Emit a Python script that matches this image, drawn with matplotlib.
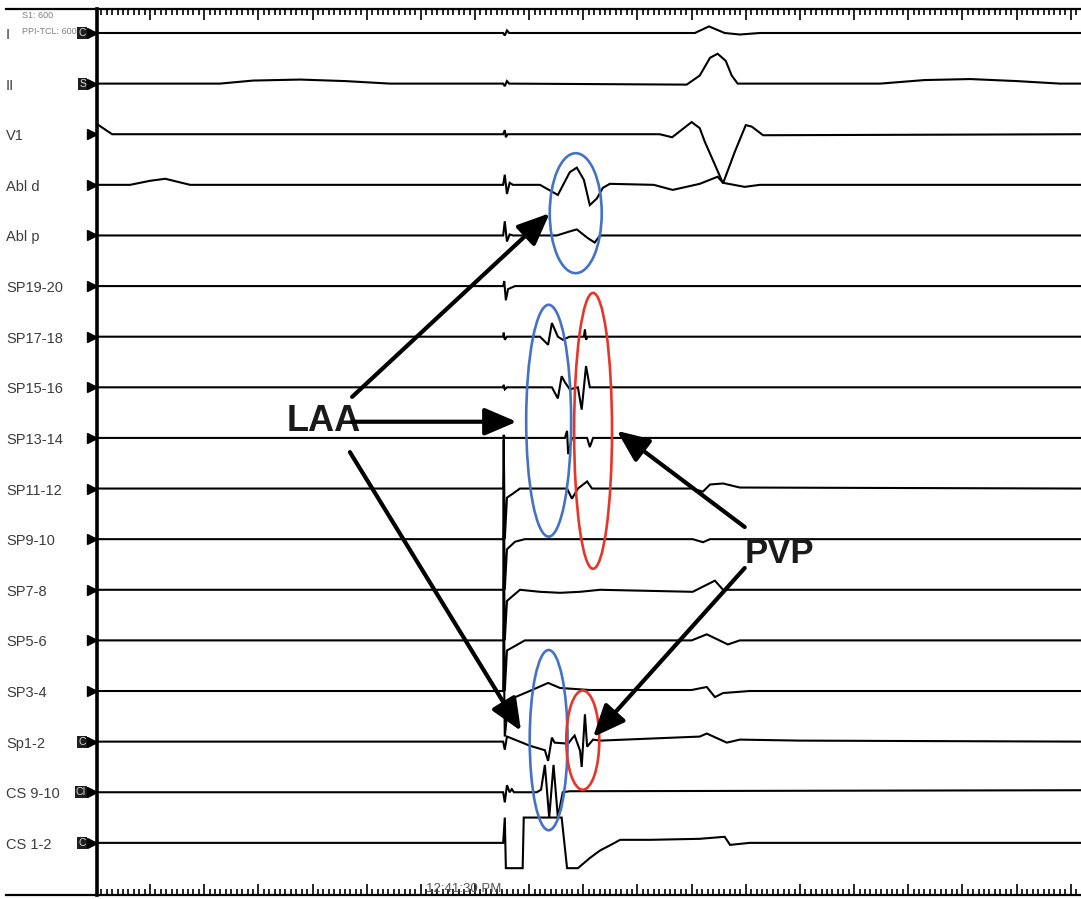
import numpy as np
import matplotlib.pyplot as plt
from matplotlib.patches import Ellipse
from matplotlib.lines import Line2D
from matplotlib.transforms import blended_transform_factory
from matplotlib.ticker import MultipleLocator

plt.rcParams['font.family'] = ['Liberation Sans', 'DejaVu Sans']

channels = ['I', 'II', 'V1', 'Abl d', 'Abl p', 'SP19-20', 'SP17-18', 'SP15-16',
            'SP13-14', 'SP11-12', 'SP9-10', 'SP7-8', 'SP5-6', 'SP3-4', 'Sp1-2',
            'CS 9-10', 'CS 1-2']
tags = ['C', 'S', '', '', '', '', '', '', '', '', '', '', '', '', 'C', 'CI', 'C']

# keypoints: time (ms), deflection in channel spacings (+ = up)
t_I = [2, 752, 755, 759, 763, 1106, 1132, 1161, 1189, 1226, 1819]
v_I = [0, 0, -0.05, 0.05, 0, 0, 0.13, 0, -0.03, 0, 0]

t_II = [2, 229, 290, 377, 460, 543, 752, 755, 759, 763, 1091, 1115, 1134, 1148, 1163, 1174, 1185,
        1448, 1530, 1614, 1700, 1780, 1819]
v_II = [0, 0, 0.06, 0.08, 0.05, 0, 0, -0.05, 0.05, 0, -0.02, 0.16, 0.51, 0.59, 0.45, 0.16, 0,
        0, 0.07, 0.09, 0.05, 0, 0]

t_V1 = [2, 30, 752, 755, 757, 760, 1041, 1064, 1100, 1115, 1124, 1158, 1180, 1200, 1211, 1232, 1819]
v_V1 = [0.2, 0, 0, 0.08, -0.06, 0, 0, -0.06, 0.24, 0.12, -0.14, -0.97, -0.34, 0.18, 0.15, -0.02, 0]

t_abld = [2, 63, 100, 128, 174, 752, 755, 759, 764, 770, 820, 853, 875, 888, 901, 912, 925, 936, 949,
          1030, 1065, 1115, 1148, 1158, 1198, 1226, 1819]
v_abld = [0, 0, 0.08, 0.12, 0, 0, 0.2, -0.18, 0.04, 0, 0, -0.2, 0.25, 0.34, 0.1, -0.4, -0.27, -0.06, 0.02,
          0, -0.1, 0.02, 0.16, 0.04, -0.04, 0, 0]

t_ablp = [2, 752, 755, 759, 764, 770, 851, 875, 888, 908, 921, 931, 1819]
v_ablp = [0, 0, 0.28, -0.12, 0.02, 0, 0, 0.08, 0.12, -0.05, -0.14, 0, 0]

t_sp1920 = [2, 752, 754, 757, 761, 774, 1819]
v_sp1920 = [0, 0, 0.1, -0.28, -0.06, 0, 0]

t_sp1718 = [2, 752, 753, 755, 759, 820, 835, 842, 853, 862, 875, 901, 903, 905, 908, 1819]
v_sp1718 = [0, 0, 0.08, -0.06, 0, 0, -0.16, 0.27, 0, -0.06, 0, 0, 0.14, -0.06, 0, 0]

t_sp1516 = [2, 752, 753, 755, 759, 842, 853, 860, 866, 875, 890, 897, 905, 912, 1819]
v_sp1516 = [0, 0, 0.05, -0.04, 0, 0, -0.22, 0.22, 0.1, -0.04, 0, -0.44, 0.42, 0, 0]

t_sp1314 = [2, 752, 753, 755, 866, 870, 872, 879, 907, 912, 918, 1819]
v_sp1314 = [0, 0, 0.06, 0, 0, 0.14, -0.32, 0, 0, -0.18, 0, 0]

t_sp1112 = [2, 752, 753, 755, 759, 770, 783, 870, 879, 890, 907, 916, 1100, 1121, 1134, 1158, 1189, 1819]
v_sp1112 = [0, 0, 0.97, -1.0, -0.18, -0.1, 0, 0, -0.2, 0, 0.14, 0, 0, -0.06, 0.08, 0.1, 0.02, 0]

t_sp910 = [2, 752, 753, 755, 759, 774, 792, 1102, 1121, 1134, 1819]
v_sp910 = [0, 0, 0.98, -1.0, -0.2, -0.05, 0, 0, -0.06, 0, 0]

t_sp78 = [2, 752, 753, 755, 759, 783, 820, 857, 894, 931, 1102, 1128, 1143, 1158, 1819]
v_sp78 = [0, 0, 1.0, -1.0, -0.22, 0, -0.04, -0.06, -0.04, 0, -0.04, 0.1, 0.18, 0, 0]

t_sp56 = [2, 752, 753, 755, 759, 792, 1100, 1128, 1167, 1189, 1819]
v_sp56 = [0, 0, 1.0, -1.0, -0.2, 0, 0, 0.12, -0.08, 0, 0]

t_sp34 = [2, 752, 753, 755, 761, 770, 801, 835, 857, 912, 1100, 1128, 1143, 1158, 1207, 1819]
v_sp34 = [0, 0, 1.0, -0.9, -0.28, -0.14, 0, 0.16, 0.06, 0.02, 0.02, 0.08, -0.12, -0.04, 0, 0]

t_sp12 = [2, 752, 755, 759, 764, 801, 829, 835, 842, 847, 872, 879, 884, 894, 897, 903, 907, 918, 931,
          1115, 1128, 1165, 1189, 1300, 1819]
v_sp12 = [0, 0, -0.16, 0.1, 0.08, -0.08, -0.17, -0.38, 0.08, -0.02, -0.04, 0.06, 0.12, -0.18, -0.5, 0.54,
          -0.1, 0.04, 0.02, 0.1, 0.16, -0.02, 0.04, 0.02, 0]

t_cs910 = [2, 752, 755, 759, 764, 768, 772, 814, 822, 829, 837, 845, 853, 862, 875, 1819]
v_cs910 = [0, 0, -0.2, 0.14, 0, 0.06, 0, 0, 0.05, 0.54, -0.5, 0.54, -0.5, 0, 0.02, 0.04]

t_cs12 = [2, 752, 755, 757, 788, 790, 860, 870, 890, 912, 931, 949, 968, 1023, 1115, 1161, 1171, 1207, 1819]
v_cs12 = [0, 0, 0.5, -0.5, -0.5, 0.5, 0.5, -0.5, -0.5, -0.3, -0.15, -0.05, 0.06, 0.06, 0.08, 0.12, -0.04, 0, 0]

traces = [(t_I, v_I), (t_II, v_II), (t_V1, v_V1), (t_abld, v_abld), (t_ablp, v_ablp),
          (t_sp1920, v_sp1920), (t_sp1718, v_sp1718), (t_sp1516, v_sp1516), (t_sp1314, v_sp1314),
          (t_sp1112, v_sp1112), (t_sp910, v_sp910), (t_sp78, v_sp78), (t_sp56, v_sp56),
          (t_sp34, v_sp34), (t_sp12, v_sp12), (t_cs910, v_cs910), (t_cs12, v_cs12)]

fig = plt.figure(figsize=(10.81, 8.99), dpi=100)
ax = fig.add_axes([97 / 1081, 4 / 899, 1 - 97 / 1081, 886 / 899])

for i, (t, v) in enumerate(traces):
    ax.plot(t, i - np.array(v), color='black', lw=1.5, solid_joinstyle='miter')

ax.set_xlim(2, 1819)
ax.set_ylim(17.03, -0.474)
ax.xaxis.set_major_locator(MultipleLocator(100))
ax.xaxis.set_minor_locator(MultipleLocator(10))
ax.set_yticks([])
ax.tick_params(axis='x', which='both', direction='in', top=True, bottom=True,
               labelbottom=False, width=1.2, color='black')
ax.tick_params(axis='x', which='major', length=8)
ax.tick_params(axis='x', which='minor', length=4)
ax.spines['right'].set_visible(False)
ax.spines['left'].set_linewidth(2.6)
ax.spines['top'].set_linewidth(1.6)
ax.spines['bottom'].set_linewidth(1.6)

# frame lines continue under the label column
for yf in (1 - 9 / 899, 4 / 899):
    fig.add_artist(Line2D([6 / 1081, 97 / 1081], [yf, yf], transform=fig.transFigure,
                          color='black', lw=1.6))

lab = blended_transform_factory(fig.transFigure, ax.transData)
for i, name in enumerate(channels):
    ax.text(6 / 1081, i + 0.04, name, transform=lab, ha='left', va='center',
            fontsize=10.5, color='#3c3c3c', clip_on=False)
    ax.plot([92 / 1081], [i], marker='>', markersize=7.5, color='black',
            transform=lab, clip_on=False, zorder=3)
    if tags[i]:
        ax.text(86 / 1081, i, tags[i], transform=lab, ha='right', va='center',
                fontsize=7.5, color='#d8d8d8', clip_on=False, zorder=2,
                bbox=dict(boxstyle='square,pad=0.1', fc='#1e1e1e', ec='none'))

fig.text(22 / 1081, 1 - 16 / 899, 'S1: 600', fontsize=6.5, color='#808080', va='center')
fig.text(22 / 1081, 1 - 32 / 899, 'PPI-TCL: 600', fontsize=6.5, color='#808080', va='center',
         zorder=0)
ax.text(680, 16.91, '12:41:30 PM', ha='center', va='center', fontsize=9.5, color='#555555',
        clip_on=False)

# annotation ellipses
blue = '#4472c4'
red = '#e8352a'
for (cx, cy, w, h, c) in [(886, 3.56, 96, 2.37, blue), (836, 7.66, 83, 4.58, blue),
                          (918, 7.86, 70, 5.45, red), (836, 13.97, 70, 3.56, blue),
                          (899, 13.97, 61, 1.96, red)]:
    ax.add_patch(Ellipse((cx, cy), w, h, fill=False, ec=c, lw=1.9, zorder=4))

arrow = dict(arrowstyle='-|>,head_length=0.7,head_width=0.3', color='black', lw=3,
             mutation_scale=28, shrinkA=0, shrinkB=0)
ax.text(420, 7.68, 'LAA', ha='center', va='center', fontsize=26, fontweight='bold',
        color='#1a1a1a', zorder=5)
for start, tip in [((473, 7.19), (838, 3.56)), ((473, 7.68), (777, 7.68)),
                   ((469, 8.28), (785, 13.79))]:
    ax.annotate('', xy=tip, xytext=start, arrowprops=arrow, zorder=5)

ax.text(1263, 10.29, 'PVP', ha='center', va='center', fontsize=25, fontweight='bold',
        color='#1a1a1a', zorder=5)
for start, tip in [((1198, 9.76), (962, 7.86)), ((1198, 10.57), (918, 13.91))]:
    ax.annotate('', xy=tip, xytext=start, arrowprops=arrow, zorder=5)

fig.savefig('out.png', dpi=100)
